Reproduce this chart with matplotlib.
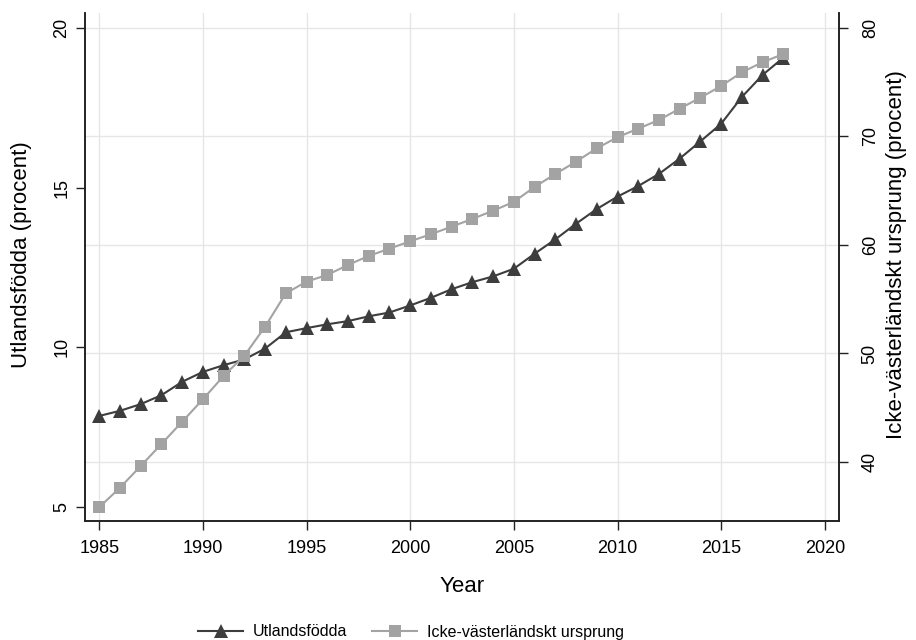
import numpy as np
import matplotlib.pyplot as plt

plt.rcParams['font.family'] = ['Liberation Sans', 'DejaVu Sans']

years = np.arange(1985, 2019)
utlandsfodda = [7.85, 8.01, 8.22, 8.50, 8.92, 9.23, 9.44, 9.62, 9.96, 10.47,
                10.60, 10.72, 10.82, 10.97, 11.09, 11.31, 11.55, 11.82, 12.04, 12.22,
                12.46, 12.93, 13.38, 13.87, 14.33, 14.72, 15.05, 15.43, 15.91, 16.45,
                17.00, 17.84, 18.53, 19.07]
icke_vast = [35.83, 37.63, 39.63, 41.66, 43.71, 45.78, 47.93, 49.80, 52.47, 55.55,
             56.62, 57.24, 58.16, 58.99, 59.66, 60.34, 60.99, 61.69, 62.40, 63.16,
             63.97, 65.35, 66.54, 67.68, 68.91, 69.93, 70.72, 71.52, 72.56, 73.58,
             74.65, 75.92, 76.84, 77.60]

xticks = [1985, 1990, 1995, 2000, 2005, 2010, 2015, 2020]
left_ticks = [5, 10, 15, 20]
right_ticks = [40, 50, 60, 70, 80]

dark = '#3d3d3d'
light = '#a3a3a3'
grid_c = '#e6e6e6'

fig = plt.figure(figsize=(9.16, 6.4), dpi=100)
ax = fig.add_axes([0.0928, 0.186, 0.823, 0.7937])
ax2 = ax.twinx()

xlim = (1984.31, 2020.68)
ylim_l = (4.56, 20.47)
ylim_r = (34.56, 81.38)

ax.set_xlim(*xlim)
ax.set_ylim(*ylim_l)
ax2.set_ylim(*ylim_r)

# grid: vertical at x ticks, horizontal at right axis ticks (drawn in the lower axes)
for x in xticks:
    ax.axvline(x, color=grid_c, lw=1, zorder=0)
for v in right_ticks:
    yl = ylim_l[0] + (v - ylim_r[0]) / (ylim_r[1] - ylim_r[0]) * (ylim_l[1] - ylim_l[0])
    ax.axhline(yl, color=grid_c, lw=1, zorder=0)

l1, = ax.plot(years, utlandsfodda, color=dark, lw=1.5, marker='^', ms=10,
              markeredgewidth=0, label='Utlandsfödda', zorder=3)
l2, = ax2.plot(years, icke_vast, color=light, lw=1.5, marker='s', ms=8,
               markeredgewidth=0, label='Icke-västerländskt ursprung', zorder=3)

ax.set_xticks(xticks)
ax.set_yticks(left_ticks)
ax2.set_yticks(right_ticks)

for a in (ax, ax2):
    a.spines['top'].set_visible(False)
    for s in a.spines.values():
        s.set_color('#222222')
        s.set_linewidth(1.2)
    a.tick_params(direction='out', length=6.5, width=1, color='#222222',
                  labelsize=13, pad=4)
ax.tick_params(axis='x', pad=7)
ax.tick_params(axis='y', labelrotation=90)
ax2.tick_params(axis='y', labelrotation=90, pad=10)
for t in ax.get_yticklabels() + ax2.get_yticklabels():
    t.set_va('center')

ax.set_xlabel('Year', fontsize=16, labelpad=14)
ax.set_ylabel('Utlandsfödda (procent)', fontsize=16)
ax2.set_ylabel('Icke-västerländskt ursprung (procent)', fontsize=16)
ax.yaxis.set_label_coords(-0.070, 0.524)
ax2.yaxis.set_label_coords(1.063, 0.524)

fig.legend(handles=[l1, l2], loc='center', bbox_to_anchor=(411 / 916, 1 - 632 / 640),
           ncol=2, frameon=False, fontsize=11.5, handlelength=2.8,
           handletextpad=0.6, columnspacing=1.6)

fig.savefig('out.png', dpi=100)
